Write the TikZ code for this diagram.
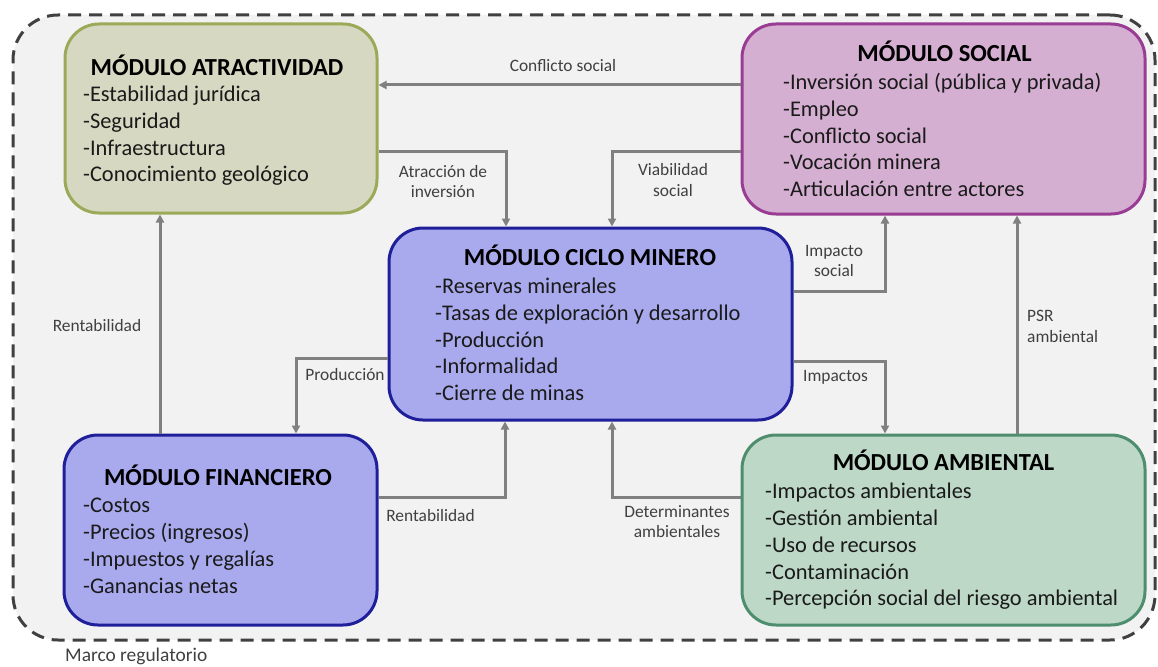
\documentclass[tikz,border=0pt]{standalone}
\usepackage{fontspec}
\setmainfont{Carlito}
\usetikzlibrary{arrows.meta}
\definecolor{bgc}{HTML}{F2F2F2}
\definecolor{dashc}{HTML}{404040}
\definecolor{atrfill}{HTML}{D7D8C1}
\definecolor{atrdraw}{HTML}{9BAA58}
\definecolor{socfill}{HTML}{D5AFD2}
\definecolor{socdraw}{HTML}{983C94}
\definecolor{cicfill}{HTML}{A9A9EE}
\definecolor{cicdraw}{HTML}{1F1F99}
\definecolor{ambfill}{HTML}{BDD8C7}
\definecolor{ambdraw}{HTML}{4E8E6E}
\definecolor{arrc}{HTML}{808080}
\definecolor{lblc}{HTML}{404040}
\definecolor{itemc}{HTML}{1A1A1A}
\begin{document}
\begin{tikzpicture}[x=1pt,y=-1pt,
  frame/.style={draw=dashc, line width=3pt, dash pattern=on 13pt off 8pt, fill=bgc, rounded corners=45pt, inner sep=0pt},
  box/.style={line width=3pt, rounded corners=34pt, inner sep=0pt},
  ttl/.style={font=\bfseries\fontsize{24.5}{29}\selectfont, anchor=base, inner sep=0pt},
  itm/.style={font=\fontsize{22.4}{27}\selectfont, anchor=base west, inner sep=0pt, text=itemc},
  lbl/.style={font=\fontsize{17.4}{21}\selectfont, text=lblc, inner sep=0pt, anchor=base, align=center},
  arr/.style={draw=arrc, line width=3pt, -{Triangle[length=8pt,width=8pt]}}]
\useasboundingbox (0,0) rectangle (1158,666);
\node[frame, minimum width=1142pt, minimum height=625pt] (frame) at (584,327.5) {};
\node[font=\fontsize{19.4}{23}\selectfont, text=lblc, anchor=base west, inner sep=0pt] (marco) at (65,661) {Marco regulatorio};

% boxes
\node[box, fill=atrfill, draw=atrdraw, minimum width=312pt, minimum height=189pt] (atr) at (221,118.5) {};
\node[box, fill=socfill, draw=socdraw, minimum width=403pt, minimum height=190pt] (soc) at (943.5,119) {};
\node[box, fill=cicfill, draw=cicdraw, minimum width=403pt, minimum height=192pt] (cic) at (590.5,324) {};
\node[box, fill=cicfill, draw=cicdraw, minimum width=313pt, minimum height=190pt] (fin) at (220.5,530) {};
\node[box, fill=ambfill, draw=ambdraw, minimum width=403pt, minimum height=190pt] (amb) at (943.5,530) {};

% titles
\node[ttl] (atrT) at (217,76) {MÓDULO ATRACTIVIDAD};
\node[ttl] (socT) at (944.5,61.7) {MÓDULO SOCIAL};
\node[ttl] (cicT) at (590,265) {MÓDULO CICLO MINERO};
\node[ttl] (finT) at (218,485) {MÓDULO FINANCIERO};
\node[ttl] (ambT) at (943.5,470.7) {MÓDULO AMBIENTAL};

% items
\foreach \t [count=\i from 0] in {-Estabilidad jurídica,-Seguridad,-Infraestructura,-Conocimiento geológico}
  \node[itm] (atr-\i) at (83,{102+26.6*\i}) {\t};
\foreach \t [count=\i from 0] in {-Inversión social (pública y privada),-Empleo,-Conflicto social,-Vocación minera,-Articulación entre actores}
  \node[itm] (soc-\i) at (783,{89.5+26.8*\i}) {\t};
\foreach \t [count=\i from 0] in {-Reservas minerales,-Tasas de exploración y desarrollo,-Producción,-Informalidad,-Cierre de minas}
  \node[itm] (cic-\i) at (435,{293.5+26.8*\i}) {\t};
\foreach \t [count=\i from 0] in {-Costos,-Precios (ingresos),-Impuestos y regalías,-Ganancias netas}
  \node[itm] (fin-\i) at (83,{512.7+26.8*\i}) {\t};
\foreach \t [count=\i from 0] in {-Impactos ambientales,-Gestión ambiental,-Uso de recursos,-Contaminación,-Percepción social del riesgo ambiental}
  \node[itm] (amb-\i) at (765,{498.3+26.9*\i}) {\t};

% connectors
\draw[arr] (soc.west |- 0,85) -- (atr.east |- 0,85);
\draw[arr] (atr.east |- 0,151) -| (cic.north -| 506,0);
\draw[arr] (soc.west |- 0,151) -| (cic.north -| 612,0);
\draw[arr] (cic.east |- 0,291) -| (soc.south -| 885,0);
\draw[arr] (cic.east |- 0,361) -| (amb.north -| 885,0);
\draw[arr] (amb.north -| 1017,0) -- (soc.south -| 1017,0);
\draw[arr] (fin.north -| 160,0) -- (atr.south -| 160,0);
\draw[arr] (cic.west |- 0,358) -| (fin.north -| 296,0);
\draw[arr] (fin.east |- 0,497) -| (cic.south -| 505,0);
\draw[arr] (amb.west |- 0,497) -| (cic.south -| 612,0);

% labels
\node[lbl] (l1) at (563,72) {Conflicto social};
\node[lbl] (l2a) at (443,177.3) {Atracción de};
\node[lbl] (l2b) at (443,197.7) {inversión};
\node[lbl] (l3a) at (673,175) {Viabilidad};
\node[lbl] (l3b) at (673,196) {social};
\node[lbl] (l4a) at (834,256) {Impacto};
\node[lbl] (l4b) at (834,276.7) {social};
\node[lbl] (l5) at (835.5,381.7) {Impactos};
\node[lbl, anchor=base west] (l6a) at (1027,321.7) {PSR};
\node[lbl, anchor=base west] (l6b) at (1027,342.7) {ambiental};
\node[lbl] (l7) at (97,331) {Rentabilidad};
\node[lbl] (l8) at (345,380) {Producción};
\node[lbl] (l9) at (430.5,521.7) {Rentabilidad};
\node[lbl] (l10a) at (677,517.3) {Determinantes};
\node[lbl] (l10b) at (677,537.3) {ambientales};
\end{tikzpicture}
\end{document}
